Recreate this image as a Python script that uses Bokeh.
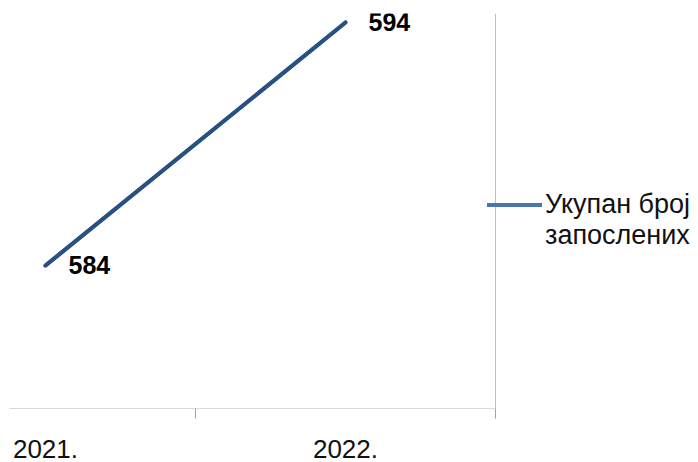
from bokeh.plotting import figure
from bokeh.models import (ColumnDataSource, Range1d, FixedTicker, Span,
                          Legend, LegendItem)
from bokeh.core.properties import value
from bokeh.embed import file_html
from bokeh.resources import INLINE

# ---- data ----
years = ["2021.", "2022."]
x_idx = [0, 1]
employees = [584, 594]
legend_lines = ["Укупан број", "запослених"]

src = ColumnDataSource(data=dict(x=x_idx, y=employees,
                                 lbl=[str(v) for v in employees]))

p = figure(width=698, height=462,
           x_range=Range1d(-0.12, 2.1767), y_range=Range1d(578.115, 594.37),
           output_backend="svg", toolbar_location=None, y_axis_location=None,
           min_border_left=9, min_border_right=0, min_border_top=13,
           min_border_bottom=54)
p.grid.visible = False
p.outline_line_color = None
p.background_fill_color = "white"
p.border_fill_color = "white"

# lighter copy (used for the legend swatch), hidden under the main line
swatch = p.line(x="x", y="y", source=src, line_color="#4A76AD", line_width=4,
                line_cap="round")
main = p.line(x="x", y="y", source=src, line_color="#2A5082", line_width=4,
              line_cap="round")
blank = p.line(x="x", y="y", source=src, line_alpha=0)

p.text(x="x", y="y", text="lbl", source=src, x_offset=23, y_offset=0,
       text_font=value("Liberation Sans"), text_font_style="bold",
       text_font_size="25px", text_color="#000000",
       text_align="left", text_baseline="alphabetic")

# x axis: category labels at centres, tick marks at boundaries
xa = p.xaxis[0]
xa.bounds = (-0.12, 1.5)
xa.ticker = FixedTicker(ticks=x_idx, minor_ticks=[0.5, 1.5])
xa.major_label_overrides = {x_idx[i]: years[i] for i in range(len(years))}
xa.major_label_text_font = "Liberation Sans"
xa.major_label_text_font_size = "26px"
xa.major_label_text_color = "#111111"
xa.major_label_standoff = 21
xa.axis_line_color = "#d9d9d9"
xa.axis_line_width = 1
xa.major_tick_line_color = None
xa.major_tick_out = 0
xa.major_tick_in = 0
xa.minor_tick_line_color = "#a0a0a0"
xa.minor_tick_out = 10
xa.minor_tick_in = 0

# right border of the plot area
p.add_layout(Span(location=1.5, dimension="height", line_color="#c0c0c0",
                  line_width=1))

# legend
legend = Legend(items=[LegendItem(label=legend_lines[0], renderers=[swatch]),
                       LegendItem(label=legend_lines[1], renderers=[blank])],
                location=(478, 157), padding=0, margin=0, spacing=0,
                glyph_width=55, glyph_height=29, label_height=29,
                label_standoff=3, label_text_font_size="27px",
                label_text_font="Liberation Sans", label_text_color="#111111",
                background_fill_alpha=0, border_line_color=None)
p.add_layout(legend)

open("out.html", "w").write(file_html(p, INLINE))
